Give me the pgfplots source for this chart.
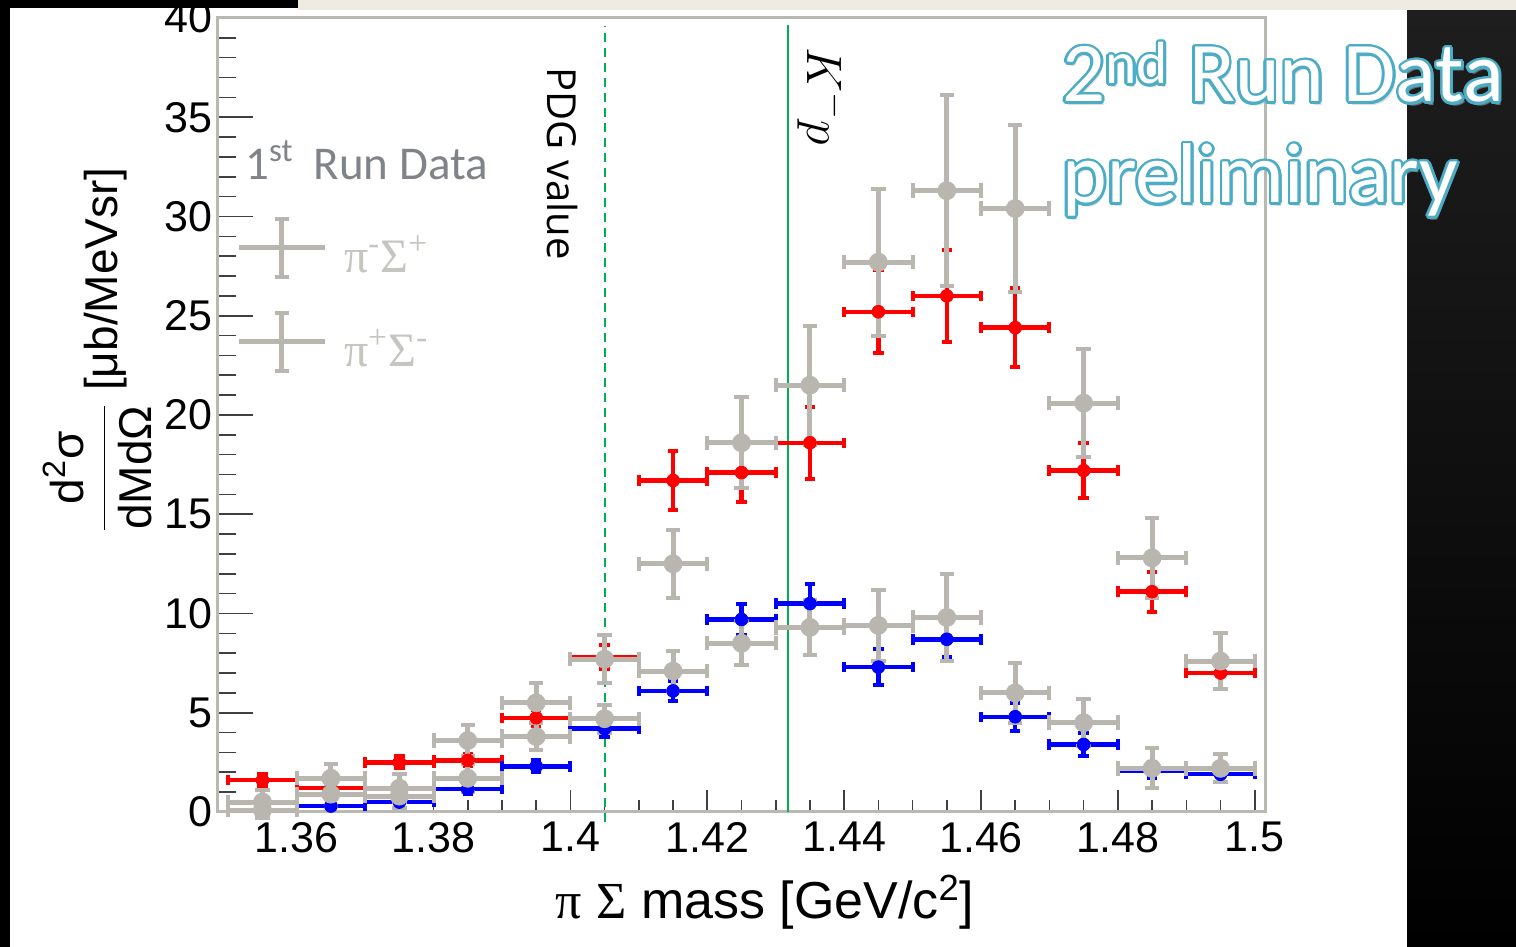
\documentclass[border=0pt]{standalone}
\usepackage{pgfplots}
\pgfplotsset{compat=1.18}
\usepackage{pgfplotstable}
\usepackage{fontspec}
\setmainfont{Liberation Sans}
\newfontfamily\serifgr{Liberation Serif}
\newfontfamily\calib{Carlito}
\newfontfamily\opens{Open Sans}
\usetikzlibrary{calc}

\definecolor{gdata}{RGB}{184,182,174}
\definecolor{framegray}{RGB}{185,185,178}
\definecolor{lgray}{RGB}{198,198,192}
\definecolor{tgray}{RGB}{128,131,135}
\definecolor{outl}{RGB}{75,172,198}
\definecolor{pdggreen}{RGB}{0,176,80}
\definecolor{beige}{RGB}{238,236,226}

\pgfplotstableread{
x y ex ey
1.355 1.6 0.005 0.3
1.365 1.2 0.005 0.2
1.375 2.5 0.005 0.3
1.385 2.6 0.005 0.3
1.395 4.75 0.005 0.4
1.405 7.8 0.005 0.6
1.415 16.7 0.005 1.5
1.425 17.1 0.005 1.5
1.435 18.6 0.005 1.8
1.445 25.2 0.005 2.1
1.455 26.0 0.005 2.3
1.465 24.4 0.005 2.0
1.475 17.2 0.005 1.4
1.485 11.1 0.005 1.0
1.495 7.0 0.005 0.8
}\redtab

\pgfplotstableread{
x y ex ey
1.355 0.05 0.005 0.15
1.365 0.3 0.005 0.15
1.375 0.5 0.005 0.2
1.385 1.15 0.005 0.25
1.395 2.3 0.005 0.3
1.405 4.2 0.005 0.4
1.415 6.1 0.005 0.5
1.425 9.7 0.005 0.8
1.435 10.5 0.005 1.0
1.445 7.3 0.005 0.9
1.455 8.7 0.005 0.9
1.465 4.8 0.005 0.7
1.475 3.4 0.005 0.6
1.485 2.1 0.005 0.4
1.495 1.9 0.005 0.4
}\bluetab

\pgfplotstableread{
x y ex ey
1.355 0.5 0.005 0.6
1.365 1.7 0.005 0.7
1.375 1.2 0.005 0.7
1.385 3.6 0.005 0.8
1.395 5.5 0.005 1.0
1.405 7.7 0.005 1.2
1.415 12.5 0.005 1.7
1.425 18.6 0.005 2.3
1.435 21.5 0.005 3.0
1.445 27.7 0.005 3.7
1.455 31.3 0.005 4.8
1.465 30.4 0.005 4.2
1.475 20.6 0.005 2.7
1.485 12.8 0.005 2.0
1.495 7.6 0.005 1.4
}\gupper

\pgfplotstableread{
x y ex ey
1.355 0.1 0.005 0.4
1.365 0.9 0.005 0.6
1.375 0.8 0.005 0.6
1.385 1.7 0.005 0.7
1.395 3.8 0.005 0.7
1.405 4.7 0.005 0.7
1.415 7.1 0.005 1.0
1.425 8.5 0.005 1.1
1.435 9.3 0.005 1.4
1.445 9.4 0.005 1.8
1.455 9.8 0.005 2.2
1.465 6.0 0.005 1.5
1.475 4.5 0.005 1.2
1.485 2.2 0.005 1.0
1.495 2.2 0.005 0.7
}\glower

\newcommand{\outlinetext}[2]{%
  \node[anchor=base west, inner sep=0pt, text=black!25, opacity=0.5] at ($(#1)+(1.2pt,-1.8pt)$) {#2};
  \foreach \a in {0,20,...,340}{%
    \node[anchor=base west, inner sep=0pt, text=outl] at ($(#1)+(\a:1.35pt)$) {#2};}
  \node[anchor=base west, inner sep=0pt, text=white] at (#1) {#2};
}

\pgfplotsset{
  commonaxis/.style={
    at={(109pt,67.5pt)}, anchor=south west,
    scale only axis, width=523.5pt, height=397pt,
    xmin=1.3485, xmax=1.5015, ymin=0, ymax=40,
    tick pos=left, tick align=inside,
    tick style={black!75, line width=0.8pt},
    ticklabel style={font=\fontsize{21.5}{24}\selectfont},
    /pgf/number format/assume math mode=true,
  },
  grayerr/.style={only marks, mark=*, mark size=4.5pt, color=gdata, mark options={fill=gdata, draw=gdata},
    legend image code/.code={
      \draw[gdata, line width=2.5pt] (0pt,4pt) -- (43pt,4pt);
      \draw[gdata, line width=2.5pt] (21.5pt,-10.5pt) -- (21.5pt,18.5pt);
      \draw[gdata, line width=2pt] (18pt,18.5pt) -- (25pt,18.5pt) (18pt,-10.5pt) -- (25pt,-10.5pt);
    },
    error bars/.cd, x dir=both, x explicit, y dir=both, y explicit,
    error bar style={line width=2.5pt, gdata},
    error mark options={rotate=90, line width=2pt, mark size=3.6pt, gdata}},
}

\begin{document}
\begin{tikzpicture}
\path[use as bounding box] (0,0) rectangle (758pt,473.5pt);
\fill[white] (0,0) rectangle (758pt,473.5pt);
\shade[top color={rgb,255:red,30;green,30;blue,30}, bottom color=black] (703.5pt,0) rectangle (758pt,468.5pt);
\fill[black] (0,0) rectangle (5pt,473.5pt);

% y ticks only
\begin{axis}[commonaxis,
  xtick=\empty, hide x axis,
  axis line style={draw=none},
  ytick={0,5,...,40},
  minor y tick num=4,
  major tick length=17.5pt, minor tick length=9pt,
  yticklabel style={inner sep=0pt, xshift=-2.5pt},
]
\end{axis}

\begin{axis}[commonaxis,
  xtick={1.36,1.38,1.4,1.42,1.44,1.46,1.48,1.5},
  minor xtick={1.35,1.355,1.365,1.37,1.375,1.385,1.39,1.395,1.405,1.41,1.415,1.425,1.43,1.435,1.445,1.45,1.455,1.465,1.47,1.475,1.485,1.49,1.495},
  ytick=\empty,
  major tick length=11pt, minor tick length=6pt,
  axis line style={draw=framegray, line width=1.5pt},
  xticklabel style={inner sep=0pt, yshift=-5pt, /pgf/number format/fixed, /pgf/number format/precision=2},
  clip=false,
  every axis x label/.style={at={(axis description cs:0.5224,-0.1134)}, anchor=center, font=\fontsize{26}{30}\selectfont},
  every axis y label/.style={at={(axis description cs:-0.1151,0.582)}, rotate=90, anchor=center, font=\fontsize{23}{28}\selectfont},
  xlabel={{\serifgr π} {\serifgr Σ} mass [GeV/c\textsuperscript{2}]},
  ylabel={$\displaystyle\frac{\mbox{d\textsuperscript{2}σ}}{\mbox{dMdΩ}}$ [μb/MeVsr]},
  legend style={at={(axis description cs:0.0172,0.7506)}, anchor=north west, draw=none, fill=none,
    inner sep=0pt, outer sep=0pt, row sep=15.5pt, font=\serifgr\fontsize{24}{26}\selectfont, text=lgray,
    nodes={inner sep=0pt}, /tikz/every odd column/.append style={column sep=8.5pt}},
  legend cell align=left,
]
% reference lines
\addplot[pdggreen, line width=1pt, dash pattern=on 4.5pt off 3pt, forget plot] coordinates {(1.405,-0.5) (1.405,39.6)};
\addplot[pdggreen, line width=1pt, forget plot] coordinates {(1.4318,0) (1.4318,39.65)};

% 2nd run red
\addplot[forget plot, only marks, mark=*, mark size=3.2pt, color=red, mark options={fill=red, draw=red},
  error bars/.cd, x dir=both, x explicit, y dir=both, y explicit,
  error bar style={line width=2.2pt, red},
  error mark options={rotate=90, line width=2pt, mark size=2.6pt, red}]
  table[x=x, y=y, x error=ex, y error=ey] {\redtab};
% 2nd run blue
\addplot[forget plot, only marks, mark=*, mark size=3.2pt, color=blue, mark options={fill=blue, draw=blue},
  error bars/.cd, x dir=both, x explicit, y dir=both, y explicit,
  error bar style={line width=2.2pt, blue},
  error mark options={rotate=90, line width=2pt, mark size=2.6pt, blue}]
  table[x=x, y=y, x error=ex, y error=ey] {\bluetab};

% 1st run grey
\addplot[grayerr] table[x=x, y=y, x error=ex, y error=ey] {\gupper};
\addlegendentry{π\textsuperscript{-}Σ\textsuperscript{+}}
\addplot[grayerr] table[x=x, y=y, x error=ex, y error=ey] {\glower};
\addlegendentry{π\textsuperscript{+}Σ\textsuperscript{-}}
\end{axis}

% top bars
\fill[black] (0,469.5pt) rectangle (149pt,473.5pt);
\fill[beige] (149pt,468.5pt) rectangle (758pt,473.5pt);

% annotations
\node[rotate=-90, anchor=center, inner sep=0pt, font=\opens\fontsize{20}{24}\selectfont] at (281pt,391.75pt) {PDG value};
\node[rotate=-90, anchor=center, inner sep=0pt, font=\fontsize{24}{28}\selectfont] at (411pt,425.5pt) {$K^{-}p$};
\node[anchor=base west, inner sep=0pt, text=tgray, font=\calib\fontsize{23.5}{28}\selectfont] at (122.5pt,383.5pt) {1\textsuperscript{st}\hspace{10pt}Run Data};

\begin{scope}[font=\calib\fontsize{42.5}{48}\selectfont]
\outlinetext{531pt,422.5pt}{2\textsuperscript{nd}\hspace{10pt}Run Data}
\outlinetext{531pt,372pt}{preliminary}
\end{scope}
\end{tikzpicture}
\end{document}
